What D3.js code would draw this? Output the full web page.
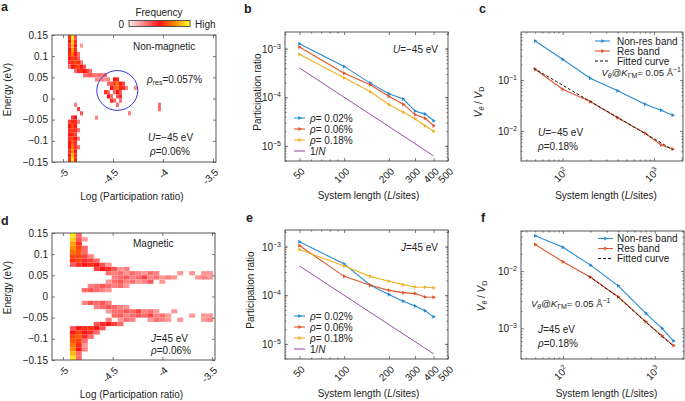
<!DOCTYPE html>
<html>
<head>
<meta charset="utf-8">
<script src="https://cdn.jsdelivr.net/npm/d3@7"></script>
<style>
  body { margin: 0; background: #fff; }
  text { fill: #222; }
</style>
</head>
<body>
<div id="fig"></div>
<script>
// ---------- data ----------

// b / e : participation ratio vs system length
var sizes = [50, 100, 150, 200, 250, 300, 350, 400];
var rhoLabels = ["0.02%", "0.06%", "0.18%"];
var prNonMag = [
  [1.25e-3, 4.3e-4, 1.95e-4, 1.18e-4, 9.2e-5, 5.2e-5, 4.5e-5, 3.3e-5],
  [1.08e-3, 3.1e-4, 1.8e-4, 1.05e-4, 7.2e-5, 4.4e-5, 3.7e-5, 2.6e-5],
  [7.6e-4, 2.5e-4, 1.3e-4, 7.1e-5, 4.9e-5, 3.6e-5, 2.6e-5, 2.0e-5]
];
var prMag = [
  [1.26e-3, 4.4e-4, 1.6e-4, 1.03e-4, 7.5e-5, 6.0e-5, 4.8e-5, 3.6e-5],
  [1.05e-3, 2.44e-4, 1.6e-4, 1.26e-4, 1.13e-4, 1.08e-4, 9.2e-5, 9.1e-5],
  [8.7e-4, 4.0e-4, 2.44e-4, 1.93e-4, 1.65e-4, 1.48e-4, 1.46e-4, 1.42e-4]
];
var invN = [[50, 4.0e-4], [400, 6.25e-6]];

// c / f : V_theta / V_D vs system length
var lengthsV = [50, 100, 200, 400, 800, 1200, 1600];
var nonResU = [0.58, 0.255, 0.108, 0.0616, 0.0334, 0.0255, 0.0204];
var resU = [0.162, 0.0658, 0.0376, 0.0182, 0.009, 0.0053, 0.0044];
var fitU = [[48, 0.17], [1620, 0.00424]];
var nonResJ = [0.0413, 0.026, 0.0127, 0.00553, 0.00183, 0.001, 0.0006];
var resJ = [0.0292, 0.0145, 0.0078, 0.00356, 0.0013, 0.00074, 0.0005];
var fitJ = [[190, 0.0082], [400, 0.0035], [800, 0.00128], [1200, 0.00072], [1600, 0.00049]];

// a : non-magnetic histogram, rows of [energy, [[logPR, frequency], ...]]
var heatNonMag = [
  [0.145, [[-4.935, .55], [-4.905, .95], [-4.875, .35]]],
  [0.135, [[-4.935, .5], [-4.905, .9], [-4.875, .45]]],
  [0.125, [[-4.935, .45], [-4.905, .85], [-4.875, .5], [-4.815, .2]]],
  [0.115, [[-4.935, .5], [-4.905, .8], [-4.875, .55]]],
  [0.105, [[-4.935, .55], [-4.905, .7], [-4.875, .5], [-4.845, .3]]],
  [0.095, [[-4.935, .5], [-4.905, .6], [-4.875, .55], [-4.845, .35]]],
  [0.085, [[-4.935, .45], [-4.905, .55], [-4.875, .6], [-4.845, .55], [-4.815, .3]]],
  [0.075, [[-4.935, .3], [-4.905, .5], [-4.875, .55], [-4.845, .6], [-4.815, .5], [-4.785, .35]]],
  [0.065, [[-4.875, .3], [-4.845, .45], [-4.815, .55], [-4.785, .5], [-4.755, .4], [-4.725, .3]]],
  [0.055, [[-4.785, .3], [-4.755, .3], [-4.725, .35], [-4.695, .3], [-4.665, .25], [-4.635, .3], [-4.605, .25], [-4.575, .3]]],
  [0.045, [[-4.665, .25], [-4.635, .2], [-4.605, .25], [-4.575, .2], [-4.545, .25], [-4.485, .5], [-4.455, .55]]],
  [0.035, [[-4.545, .3], [-4.515, .35], [-4.485, .6], [-4.455, .7], [-4.425, .5], [-4.395, .4]]],
  [0.025, [[-4.515, .5], [-4.485, .35], [-4.455, .7], [-4.425, .55], [-4.395, .45], [-4.365, .25], [-4.275, .25]]],
  [0.015, [[-4.575, .45], [-4.545, .3], [-4.485, .3], [-4.455, .5], [-4.425, .35]]],
  [0.005, [[-4.545, .5], [-4.515, .3], [-4.455, .35], [-4.425, .45]]],
  [-0.005, [[-4.515, .45], [-4.485, .3], [-4.425, .3]]],
  [-0.015, [[-4.875, .25], [-4.455, .3], [-4.035, .3]]],
  [-0.025, [[-4.845, .4], [-4.035, .3]]],
  [-0.035, [[-4.815, .35], [-4.335, .25]]],
  [-0.045, [[-4.905, .4], [-4.875, .5], [-4.665, .25]]],
  [-0.055, [[-4.935, .4], [-4.905, .55], [-4.875, .45], [-4.845, .25]]],
  [-0.065, [[-4.935, .5], [-4.905, .6], [-4.875, .5]]],
  [-0.075, [[-4.935, .45], [-4.905, .6], [-4.875, .45], [-4.845, .3]]],
  [-0.085, [[-4.935, .5], [-4.905, .55], [-4.875, .4]]],
  [-0.095, [[-4.935, .45], [-4.905, .6], [-4.875, .5], [-4.845, .25]]],
  [-0.105, [[-4.935, .5], [-4.905, .65], [-4.875, .45]]],
  [-0.115, [[-4.935, .5], [-4.905, .7], [-4.875, .45], [-4.845, .3]]],
  [-0.125, [[-4.935, .45], [-4.905, .75], [-4.875, .5]]],
  [-0.135, [[-4.935, .5], [-4.905, .85], [-4.875, .55]]],
  [-0.145, [[-4.935, .55], [-4.905, .95], [-4.875, .55]]]
];
var resCircle = [-4.457, 0.019]; // centre of the blue ring
var resCircleR = [0.205, 0.047];

// d : magnetic histogram
var heatMag = [
  [0.145, [[-4.9, .95], [-4.84, .3]]],
  [0.135, [[-4.9, .9], [-4.84, .35], [-4.78, .2]]],
  [0.125, [[-4.9, .8], [-4.84, .55]]],
  [0.115, [[-4.9, .75], [-4.84, .6], [-4.78, .3]]],
  [0.105, [[-4.9, .7], [-4.84, .65], [-4.78, .3]]],
  [0.095, [[-4.9, .6], [-4.84, .6], [-4.78, .4], [-4.72, .25]]],
  [0.085, [[-4.9, .55], [-4.84, .6], [-4.78, .45], [-4.72, .4], [-4.66, .3]]],
  [0.075, [[-4.9, .35], [-4.84, .45], [-4.78, .5], [-4.72, .55], [-4.66, .5], [-4.6, .35], [-4.54, .2]]],
  [0.065, [[-4.66, .4], [-4.6, .5], [-4.54, .45], [-4.48, .35], [-4.42, .2], [-4.36, .25]]],
  [0.055, [[-4.54, .3], [-4.48, .25], [-4.42, .3], [-4.36, .2], [-4.3, .3], [-4.24, .25], [-4.18, .2], [-4.12, .3], [-4.06, .25], [-3.82, .2], [-3.7, .2], [-3.58, .2], [-3.52, .2]]],
  [0.045, [[-4.48, .25], [-4.42, .3], [-4.36, .35], [-4.3, .25], [-4.24, .3], [-4.18, .4], [-4.12, .25], [-4.06, .3], [-4.0, .2], [-3.94, .25], [-3.88, .2], [-3.64, .2], [-3.58, .25], [-3.52, .2]]],
  [0.035, [[-4.54, .2], [-4.48, .3], [-4.42, .35], [-4.36, .25], [-4.3, .3], [-4.24, .2], [-4.18, .25], [-4.12, .35], [-4.0, .2]]],
  [0.025, [[-4.72, .25], [-4.66, .3], [-4.6, .35], [-4.54, .3], [-4.48, .25], [-4.42, .3], [-4.36, .2]]],
  [0.015, [[-4.78, .3], [-4.72, .35], [-4.66, .3], [-4.6, .25], [-4.54, .2]]],
  [-0.015, [[-4.78, .25], [-4.72, .35], [-4.66, .3], [-4.6, .35], [-4.54, .25]]],
  [-0.025, [[-4.66, .25], [-4.6, .3], [-4.54, .35], [-4.48, .3], [-4.42, .25], [-4.36, .2]]],
  [-0.035, [[-4.54, .2], [-4.48, .3], [-4.42, .3], [-4.36, .35], [-4.3, .3], [-4.24, .4], [-4.18, .25], [-4.12, .3], [-4.06, .2], [-3.88, .2]]],
  [-0.045, [[-4.48, .3], [-4.42, .35], [-4.36, .25], [-4.3, .3], [-4.24, .35], [-4.18, .3], [-4.12, .4], [-4.06, .25], [-4.0, .3], [-3.94, .2], [-3.7, .2], [-3.58, .2], [-3.52, .2]]],
  [-0.055, [[-4.54, .25], [-4.42, .2], [-4.36, .3], [-4.3, .25], [-4.12, .2], [-4.06, .3], [-4.0, .25], [-3.94, .2], [-3.82, .2], [-3.58, .2], [-3.52, .25]]],
  [-0.065, [[-4.66, .35], [-4.6, .45], [-4.54, .5], [-4.48, .4], [-4.42, .3]]],
  [-0.075, [[-4.9, .35], [-4.84, .5], [-4.78, .55], [-4.72, .55], [-4.66, .5], [-4.6, .35]]],
  [-0.085, [[-4.9, .5], [-4.84, .6], [-4.78, .5], [-4.72, .45], [-4.66, .3]]],
  [-0.095, [[-4.9, .6], [-4.84, .65], [-4.78, .45], [-4.72, .3]]],
  [-0.105, [[-4.9, .65], [-4.84, .6], [-4.78, .3]]],
  [-0.115, [[-4.9, .7], [-4.84, .55], [-4.78, .2]]],
  [-0.125, [[-4.9, .75], [-4.84, .5], [-4.78, .25]]],
  [-0.135, [[-4.9, .85], [-4.84, .3]]],
  [-0.145, [[-4.9, .95], [-4.84, .3]]]
];

var energyTicks = [-0.15, -0.1, -0.05, 0, 0.05, 0.1, 0.15];
var logPRTicks = [-5, -4.5, -4, -3.5];
var sizeTicks = [50, 100, 200, 300, 400, 500];
var decadeTicksPR = [1e-5, 1e-4, 1e-3];

// ---------- drawing ----------
var colors = ["#2a8ad2", "#e0542a", "#efb02a"];
var purple = "#9b4ea8";
var heatColor = d3.scaleLinear().domain([0, 0.5, 0.75, 1]).range(["#ffeeee", "#ff1414", "#ff8a00", "#ffff24"]);

var svg = d3.select("#fig").append("svg")
  .attr("width", 685).attr("height", 401)
  .style("font-family", "'Liberation Sans', Arial, sans-serif");

var FS = 10;

function panel(box) {
  var g = svg.append("g").attr("transform", "translate(" + box.l + "," + box.t + ")");
  g.w = box.r - box.l;
  g.h = box.b - box.t;
  return g;
}

// inward ticks on all four sides
function ticksAll(g, x, y, xv, yv, size) {
  var sides = [
    [d3.axisBottom(x).tickValues(xv), "translate(0," + g.h + ")"],
    [d3.axisTop(x).tickValues(xv), "translate(0,0)"],
    [d3.axisLeft(y).tickValues(yv), "translate(0,0)"],
    [d3.axisRight(y).tickValues(yv), "translate(" + g.w + ",0)"]
  ];
  sides.forEach(function (s) {
    var a = g.append("g").attr("transform", s[1]).call(s[0].tickSize(-size).tickFormat(""));
    a.select(".domain").remove();
    a.selectAll("line").attr("stroke", "#444").attr("stroke-width", 0.7);
  });
}

function border(g) {
  g.append("rect").attr("width", g.w).attr("height", g.h)
    .attr("fill", "none").attr("stroke", "#444").attr("stroke-width", 0.9);
}

function logMinor(lo, hi) {
  var out = [];
  for (var e = Math.floor(Math.log10(lo)); e <= Math.ceil(Math.log10(hi)); e++) {
    for (var k = 1; k < 10; k++) {
      var v = k * Math.pow(10, e);
      if (v >= lo && v <= hi) out.push(v);
    }
  }
  return out;
}

function rotLabel(g, xpos, txt, sup) {
  var t = g.append("text")
    .attr("transform", "translate(" + (xpos + 6) + "," + (g.h + 11) + ") rotate(-45)")
    .attr("text-anchor", "end").attr("font-size", FS).text(txt);
  if (sup) t.append("tspan").attr("dy", -4).attr("font-size", 7).text(sup);
}

function powLabelLeft(g, ypos, exp) {
  var t = g.append("text").attr("x", -4).attr("y", ypos + 1).attr("text-anchor", "end").attr("font-size", FS);
  t.append("tspan").text("10");
  t.append("tspan").attr("dy", -4).attr("font-size", 7).text(exp);
}

function yTitle(x, y, build) {
  var t = svg.append("text").attr("transform", "translate(" + x + "," + y + ") rotate(-90)")
    .attr("text-anchor", "middle").attr("font-size", FS);
  build(t);
}

function xTitle(x, y) {
  var t = svg.append("text").attr("x", x).attr("y", y).attr("text-anchor", "middle").attr("font-size", FS);
  t.append("tspan").text("System length (");
  t.append("tspan").attr("font-style", "italic").text("L");
  t.append("tspan").text("/sites)");
}

function letter(x, y, s) {
  svg.append("text").attr("x", x).attr("y", y).attr("font-size", 12.5).attr("font-weight", "bold").text(s);
}

function marker(g, cx, cy, col) {
  g.append("path")
    .attr("d", d3.symbol().type(d3.symbolTriangle).size(7)())
    .attr("transform", "translate(" + cx + "," + cy + ") rotate(90)")
    .attr("fill", col);
}

// ---- heat map panels (a, d) ----
function heatPanel(box, rows, binW) {
  var g = panel(box);
  var x = d3.scaleLinear().domain([-5.11, -3.47]).range([0, g.w]);
  var y = d3.scaleLinear().domain([-0.15, 0.15]).range([g.h, 0]);
  var cells = [];
  rows.forEach(function (r) {
    r[1].forEach(function (c) { cells.push({ pr: c[0], e: r[0], f: c[1] }); });
  });
  g.selectAll("rect.cell").data(cells).enter().append("rect")
    .attr("class", "cell")
    .attr("x", function (d) { return x(d.pr - binW / 2); })
    .attr("y", function (d) { return y(d.e + 0.005); })
    .attr("width", function (d) { return x(d.pr + binW / 2) - x(d.pr - binW / 2); })
    .attr("height", y(0) - y(0.01))
    .attr("fill", function (d) { return heatColor(d.f); });
  ticksAll(g, x, y, logPRTicks, energyTicks, 3);
  border(g);
  energyTicks.forEach(function (v) {
    g.append("text").attr("x", -4).attr("y", y(v) + 3.5).attr("text-anchor", "end")
      .attr("font-size", FS).text(v === 0 ? "0" : d3.format("")(v).replace("-", "\u2212"));
  });
  logPRTicks.forEach(function (v) { rotLabel(g, x(v), String(v)); });
  svg.append("text").attr("x", box.l + g.w / 2 - 2).attr("y", box.b + 38).attr("text-anchor", "middle")
    .attr("font-size", FS).text("Log (Participation ratio)");
  yTitle(11, box.t + g.h / 2 - 9, function (t) { t.text("Energy (eV)"); });
  return { g: g, x: x, y: y };
}

var A = heatPanel({ l: 52, t: 35, r: 216, b: 162 }, heatNonMag, 0.03);
A.g.append("ellipse")
  .attr("cx", A.x(resCircle[0])).attr("cy", A.y(resCircle[1]))
  .attr("rx", A.x(resCircle[0] + resCircleR[0]) - A.x(resCircle[0]))
  .attr("ry", A.y(resCircle[1]) - A.y(resCircle[1] + resCircleR[1]))
  .attr("fill", "none").attr("stroke", "#3434d0").attr("stroke-width", 1);
A.g.append("text").attr("x", 81).attr("y", 15).attr("font-size", FS).text("Non-magnetic");
var tr = A.g.append("text").attr("x", 95).attr("y", 48).attr("font-size", FS);
tr.append("tspan").attr("font-style", "italic").text("\u03c1");
tr.append("tspan").attr("dy", 2).attr("font-size", 7).text("res");
tr.append("tspan").attr("dy", -2).text("=0.057%");
var tu = A.g.append("text").attr("x", 96).attr("y", 106).attr("font-size", FS);
tu.append("tspan").attr("font-style", "italic").text("U");
tu.append("tspan").text("=\u221245 eV");
var tp = A.g.append("text").attr("x", 98).attr("y", 120).attr("font-size", FS);
tp.append("tspan").attr("font-style", "italic").text("\u03c1");
tp.append("tspan").text("=0.06%");

var D = heatPanel({ l: 52, t: 233, r: 215, b: 360 }, heatMag, 0.06);
D.g.append("text").attr("x", 81).attr("y", 14).attr("font-size", FS).text("Magnetic");
var tj = D.g.append("text").attr("x", 99).attr("y", 109).attr("font-size", FS);
tj.append("tspan").attr("font-style", "italic").text("J");
tj.append("tspan").text("=45 eV");
var tp2 = D.g.append("text").attr("x", 99).attr("y", 121).attr("font-size", FS);
tp2.append("tspan").attr("font-style", "italic").text("\u03c1");
tp2.append("tspan").text("=0.06%");

// colour bar
var grad = svg.append("defs").append("linearGradient").attr("id", "freqGrad");
d3.range(0, 1.001, 0.05).forEach(function (s) {
  grad.append("stop").attr("offset", s).attr("stop-color", heatColor(s));
});
svg.append("rect").attr("x", 129).attr("y", 20.5).attr("width", 61).attr("height", 6)
  .attr("fill", "url(#freqGrad)").attr("stroke", "#333").attr("stroke-width", 0.8);
svg.append("text").attr("x", 159).attr("y", 16).attr("text-anchor", "middle").attr("font-size", FS).text("Frequency");
svg.append("text").attr("x", 124).attr("y", 27.5).attr("text-anchor", "end").attr("font-size", FS).text("0");
svg.append("text").attr("x", 195).attr("y", 27.5).attr("font-size", FS).text("High");

// ---- participation ratio panels (b, e) ----
function prPanel(box, series, tagLabel) {
  var g = panel(box);
  var x = d3.scaleLog().domain([40, 500]).range([0, g.w]);
  var y = d3.scaleLog().domain([Math.pow(10, -5.31), Math.pow(10, -2.66)]).range([g.h, 0]);
  var line = d3.line().x(function (d) { return x(d[0]); }).y(function (d) { return y(d[1]); });

  g.append("path").datum(invN).attr("d", line).attr("fill", "none").attr("stroke", purple).attr("stroke-width", 1);
  series.forEach(function (vals, i) {
    var pts = sizes.map(function (s, j) { return [s, vals[j]]; });
    g.append("path").datum(pts).attr("d", line).attr("fill", "none").attr("stroke", colors[i]).attr("stroke-width", 1.1);
    pts.forEach(function (p) { marker(g, x(p[0]), y(p[1]), colors[i]); });
  });

  ticksAll(g, x, y, sizeTicks, decadeTicksPR, 3);
  ticksAll(g, x, y, logMinor(40, 500).filter(function (v) { return sizeTicks.indexOf(v) < 0; }),
    logMinor(Math.pow(10, -5.31), Math.pow(10, -2.66)), 1.6);
  border(g);
  decadeTicksPR.forEach(function (v) { powLabelLeft(g, y(v) + 3, "\u2212" + (-Math.round(Math.log10(v)))); });
  sizeTicks.forEach(function (v) { rotLabel(g, x(v), String(v)); });

  // legend
  var rows = [86, 97, 108, 119];
  series.forEach(function (vals, i) {
    g.append("line").attr("x1", 9).attr("x2", 20).attr("y1", rows[i]).attr("y2", rows[i])
      .attr("stroke", colors[i]).attr("stroke-width", 1.1);
    marker(g, 14.5, rows[i], colors[i]);
    var t = g.append("text").attr("x", 25).attr("y", rows[i] + 3.5).attr("font-size", FS);
    t.append("tspan").attr("font-style", "italic").text("\u03c1");
    t.append("tspan").text("= " + rhoLabels[i]);
  });
  g.append("line").attr("x1", 9).attr("x2", 20).attr("y1", rows[3]).attr("y2", rows[3])
    .attr("stroke", purple).attr("stroke-width", 1.1);
  var tn = g.append("text").attr("x", 25).attr("y", rows[3] + 3.5).attr("font-size", FS);
  tn.append("tspan").text("1/");
  tn.append("tspan").attr("font-style", "italic").text("N");

  var tt = g.append("text").attr("x", g.w - 10).attr("y", 21).attr("text-anchor", "end").attr("font-size", FS);
  tt.append("tspan").attr("font-style", "italic").text(tagLabel[0]);
  tt.append("tspan").text(tagLabel[1]);

  xTitle(box.l + g.w / 2 + 2, box.b + 38);
  return g;
}

prPanel({ l: 285, t: 32, r: 448, b: 161 }, prNonMag, ["U", "=\u221245 eV"]);
yTitle(261, 92, function (t) { t.text("Participation ratio"); });
prPanel({ l: 285, t: 230, r: 448, b: 359 }, prMag, ["J", "=45 eV"]);
yTitle(254, 290, function (t) { t.text("Participation ratio"); });

// ---- velocity ratio panels (c, f) ----
function velPanel(box, yDom, nonRes, res, fit, opts) {
  var g = panel(box);
  var x = d3.scaleLog().domain([35, 2080]).range([0, g.w]);
  var y = d3.scaleLog().domain(yDom).range([g.h, 0]);
  var line = d3.line().x(function (d) { return x(d[0]); }).y(function (d) { return y(d[1]); });
  var blue = colors[0], red = colors[1];

  [[nonRes, blue], [res, red]].forEach(function (s) {
    var pts = lengthsV.map(function (L, j) { return [L, s[0][j]]; });
    g.append("path").datum(pts).attr("d", line).attr("fill", "none").attr("stroke", s[1]).attr("stroke-width", 1.1);
    pts.forEach(function (p) { marker(g, x(p[0]), y(p[1]), s[1]); });
  });
  g.append("path").datum(fit).attr("d", line).attr("fill", "none").attr("stroke", "#111")
    .attr("stroke-width", 1).attr("stroke-dasharray", "3,2");

  var decades = opts.decades;
  ticksAll(g, x, y, [100, 1000], decades, 3);
  ticksAll(g, x, y, logMinor(35, 2080).filter(function (v) { return v !== 100 && v !== 1000; }),
    logMinor(yDom[0], yDom[1]).filter(function (v) { return decades.indexOf(v) < 0; }), 1.6);
  border(g);
  decades.forEach(function (v) { powLabelLeft(g, y(v) + 3, "\u2212" + (-Math.round(Math.log10(v)))); });
  rotLabel(g, x(100), "10", "2");
  rotLabel(g, x(1000), "10", "3");

  // legend
  var ly = opts.legendY;
  var entries = [["Non-res band", blue, false], ["Res band", red, false], ["Fitted curve", "#111", true]];
  entries.forEach(function (e, i) {
    var ln = g.append("line").attr("x1", opts.legendX).attr("x2", opts.legendX + 15)
      .attr("y1", ly + i * 10).attr("y2", ly + i * 10).attr("stroke", e[1]).attr("stroke-width", 1.1);
    if (e[2]) ln.attr("stroke-dasharray", "3,2");
    else marker(g, opts.legendX + 7.5, ly + i * 10, e[1]);
    g.append("text").attr("x", 96).attr("y", ly + i * 10 + 3.5).attr("font-size", FS).text(e[0]);
  });

  // V_theta @ K_GM label
  var tv = g.append("text").attr("x", opts.vx).attr("y", opts.vy).attr("text-anchor", opts.vAnchor).attr("font-size", 9.5);
  tv.append("tspan").attr("font-style", "italic").text("V");
  tv.append("tspan").attr("font-style", "italic").attr("dy", 2).attr("font-size", 7).text("\u03b8");
  tv.append("tspan").attr("dy", -2).text("@");
  tv.append("tspan").attr("font-style", "italic").text("K");
  tv.append("tspan").attr("dy", 2).attr("font-size", 7).text("\u0393M");
  tv.append("tspan").attr("dy", -2).text("= 0.05 \u00c5");
  tv.append("tspan").attr("dy", -4).attr("font-size", 7).text("\u22121");

  var t1 = g.append("text").attr("x", 17).attr("y", opts.py).attr("font-size", FS);
  t1.append("tspan").attr("font-style", "italic").text(opts.param[0]);
  t1.append("tspan").text(opts.param[1]);
  var t2 = g.append("text").attr("x", 17).attr("y", opts.py + 14).attr("font-size", FS);
  t2.append("tspan").attr("font-style", "italic").text("\u03c1");
  t2.append("tspan").text("=0.18%");

  xTitle(box.l + g.w / 2 + 4, box.b + 38);
  return g;
}

function vTitle(t) {
  t.append("tspan").attr("font-style", "italic").text("V");
  t.append("tspan").attr("font-style", "italic").attr("dy", 2).attr("font-size", 7).text("\u03b8");
  t.append("tspan").attr("dy", -2).text(" / ");
  t.append("tspan").attr("font-style", "italic").text("V");
  t.append("tspan").attr("dy", 2).attr("font-size", 7).text("D");
}

velPanel({ l: 521, t: 32, r: 683, b: 161 }, [Math.pow(10, -2.59), Math.pow(10, -0.06)], nonResU, resU, fitU,
  { decades: [0.01, 0.1], legendY: 9, legendX: 74, vx: 160, vy: 44, vAnchor: "end", py: 104, param: ["U", "=\u221245 eV"] });
yTitle(482, 102, vTitle);
velPanel({ l: 521, t: 231, r: 684, b: 359 }, [Math.pow(10, -3.536), Math.pow(10, -1.3)], nonResJ, resJ, fitJ,
  { decades: [0.001, 0.01], legendY: 7.5, legendX: 77, vx: 10, vy: 76, vAnchor: "start", py: 102, param: ["J", "=45 eV"] });
yTitle(485, 296, vTitle);

// panel letters
letter(1, 11, "a");
letter(244, 13, "b");
letter(479, 13, "c");
letter(1, 225, "d");
letter(246, 222, "e");
letter(481, 222, "f");
</script>
</body>
</html>
